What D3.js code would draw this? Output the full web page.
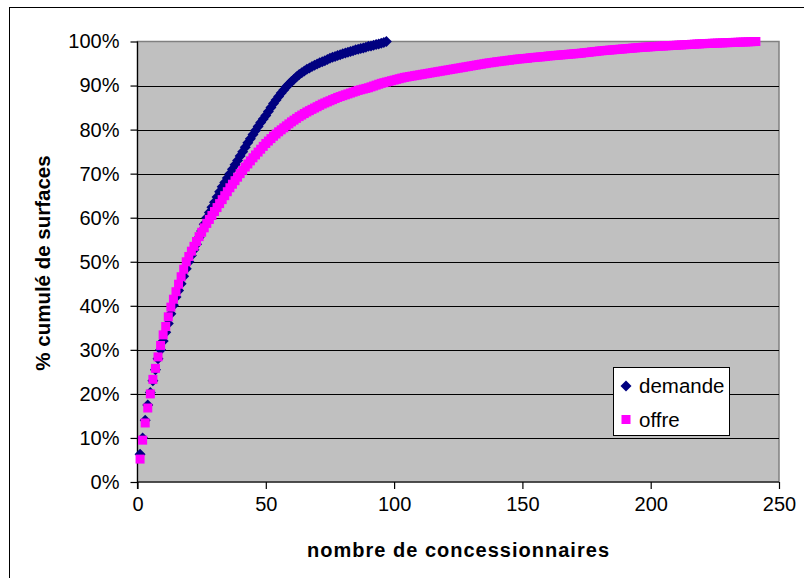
<!DOCTYPE html>
<html><head><meta charset="utf-8">
<script src="https://cdn.jsdelivr.net/npm/d3@7"></script>
<style>body{margin:0;background:#fff}svg{display:block}</style>
</head><body>
<svg id="c" width="804" height="578"></svg>
<script>
const demande = [6.3,10.0,14.0,17.5,20.3,23.0,25.5,28.0,30.0,32.0,
34.0,36.0,38.2,40.1,42.0,43.5,45.0,46.7,48.4,50.0,
51.4,52.7,54.0,55.5,57.0,58.5,60.0,61.2,62.4,63.5,
64.7,65.9,67.0,68.0,69.0,70.0,71.0,72.0,73.0,
74.0,75.0,76.0,77.0,77.95,78.9,79.8,80.7,81.6,82.4,
83.2,84.1,85.0,85.9,86.7,87.5,88.3,89.0,89.7,90.3,
90.9,91.45,92.0,92.5,92.9,93.3,93.7,94.0,94.3,94.6,
94.9,95.15,95.4,95.65,95.9,96.2,96.4,96.6,96.8,97.0,
97.2,97.4,97.55,97.75,97.9,98.1,98.25,98.4,98.55,98.7,
98.9,99.0,99.15,99.3,99.45,99.6,99.8,100];
const offre = [5.2,9.5,13.4,16.8,20.0,23.3,25.8,28.4,31.0,33.4,
35.3,37.5,39.7,41.5,43.2,44.9,46.6,48.3,50.0,51.2,
52.4,53.5,54.6,55.7,56.7,57.7,58.7,59.6,60.5,61.4,
62.3,63.2,64.1,65.0,65.9,66.8,67.6,68.4,69.2,
70.0,70.75,71.5,72.2,72.9,73.6,74.25,74.9,75.55,76.2,
76.85,77.4,77.95,78.5,79.0,79.5,79.95,80.4,80.85,81.3,
81.75,82.15,82.55,82.95,83.3,83.65,84.0,84.3,84.6,84.9,
85.2,85.5,85.8,86.05,86.3,86.55,86.8,87.05,87.3,87.5,
87.7,87.9,88.1,88.3,88.5,88.7,88.9,89.05,89.2,89.35,
89.5,89.7,89.9,90.1,90.3,90.5,90.65,90.8,90.95,91.1,
91.25,91.4,91.55,91.7,91.85,91.95,92.05,92.15,92.25,92.35,
92.45,92.55,92.65,92.75,92.85,92.95,93.05,93.15,93.25,93.35,
93.45,93.55,93.65,93.75,93.85,93.95,94.05,94.15,94.25,94.35,
94.45,94.55,94.65,94.75,94.85,94.95,95.05,95.15,95.2,95.3,
95.4,95.45,95.55,95.6,95.7,95.75,95.85,95.9,96.0,96.05,
96.1,96.15,96.2,96.3,96.35,96.4,96.45,96.5,96.55,96.6,
96.7,96.75,96.8,96.85,96.9,96.95,97.0,97.05,97.1,97.15,
97.2,97.25,97.3,97.35,97.45,97.5,97.55,97.65,97.7,97.75,
97.85,97.9,97.95,98.0,98.05,98.1,98.15,98.2,98.25,98.3,
98.35,98.4,98.45,98.5,98.55,98.6,98.65,98.7,98.72,98.76,
98.8,98.84,98.88,98.92,98.95,98.98,99.02,99.05,99.09,99.12,
99.15,99.19,99.22,99.26,99.29,99.32,99.36,99.39,99.43,99.46,
99.5,99.52,99.55,99.57,99.6,99.62,99.64,99.67,99.69,99.72,
99.74,99.76,99.79,99.81,99.83,99.86,99.88,99.9,99.93,99.95,
99.98,100];
const xTicks = [0,50,100,150,200,250];
const yTicks = [0,10,20,30,40,50,60,70,80,90,100];
const seriesNames = ["demande","offre"];
const xTitle = "nombre de concessionnaires";
const yTitle = "% cumulé de surfaces";

const svg = d3.select("#c");
const L = 137.5, R = 779, T = 41.5, B = 482;
const x = d3.scaleLinear().domain([0,250]).range([L,R]);
const y = d3.scaleLinear().domain([0,100]).range([B,T]);
const font = "'Liberation Sans', Arial, sans-serif";
const diamondPath = "M0,-5.5L5.5,0L0,5.5L-5.5,0Z";

// outer border
svg.append("rect").attr("x",9.5).attr("y",7.5).attr("width",900).attr("height",700)
  .attr("fill","#fff").attr("stroke","#000").attr("stroke-width",1);

// plot area
svg.append("rect").attr("x",L).attr("y",T).attr("width",R-L).attr("height",B-T)
  .attr("fill","#c0c0c0").attr("stroke","#808080").attr("stroke-width",1.5);

// gridlines
svg.append("g").selectAll("line").data(yTicks.filter(d=>d>0&&d<100)).join("line")
  .attr("x1",L).attr("x2",R).attr("y1",d=>Math.round(y(d))+0.5).attr("y2",d=>Math.round(y(d))+0.5)
  .attr("stroke","#000").attr("stroke-width",1);

// axes
const yAxis = d3.axisLeft(y).tickValues(yTicks).tickFormat(d=>d+"%").tickSize(7).tickPadding(11);
const gy = svg.append("g").attr("transform",`translate(${L},0)`).call(yAxis);
const xAxis = d3.axisBottom(x).tickValues(xTicks).tickFormat(d3.format("d")).tickSize(7).tickPadding(8);
const gx = svg.append("g").attr("transform",`translate(0,${B})`).call(xAxis);
[gx,gy].forEach(g=>{
  g.select(".domain").attr("stroke","#000").attr("stroke-width",1.2);
  g.selectAll(".tick line").attr("stroke","#000").attr("stroke-width",1.2);
  g.selectAll("text").attr("font-family",font).attr("font-size",20).attr("fill","#000");
});
gy.select(".domain").attr("d",`M0,${B+7}V${T}`);
gx.select(".domain").attr("d",`M${L},0H${R}`);

// markers
svg.append("g").selectAll("path").data(demande).join("path")
  .attr("d",diamondPath).attr("transform",(d,i)=>`translate(${x(i+1)},${y(d)})`)
  .attr("fill","#000080");
svg.append("g").selectAll("rect").data(offre).join("rect")
  .attr("x",(d,i)=>x(i+1)-4.5).attr("y",d=>y(d)-4.5).attr("width",9).attr("height",9)
  .attr("fill","#ff00ff");

// titles
svg.append("text").attr("x",458).attr("y",557).attr("text-anchor","middle")
  .attr("font-family",font).attr("font-weight","bold").attr("font-size",20)
  .attr("textLength",302).attr("lengthAdjust","spacing").text(xTitle);
svg.append("text").attr("transform","translate(50,263) rotate(-90)").attr("text-anchor","middle")
  .attr("font-family",font).attr("font-weight","bold").attr("font-size",20.5).text(yTitle);

// legend
const lg = svg.append("g");
lg.append("rect").attr("x",613.5).attr("y",367.5).attr("width",116).attr("height",68)
  .attr("fill","#fff").attr("stroke","#000").attr("stroke-width",1);
lg.append("path").attr("d",diamondPath).attr("transform","translate(626,386)").attr("fill","#000080");
lg.append("rect").attr("x",621.5).attr("y",415).attr("width",9).attr("height",9).attr("fill","#ff00ff");
lg.selectAll("text.l").data(seriesNames).join("text").attr("class","l")
  .attr("x",639).attr("y",(d,i)=>386+i*34).attr("dy","0.35em")
  .attr("font-family",font).attr("font-size",20.5).text(d=>d);
</script>
</body></html>
